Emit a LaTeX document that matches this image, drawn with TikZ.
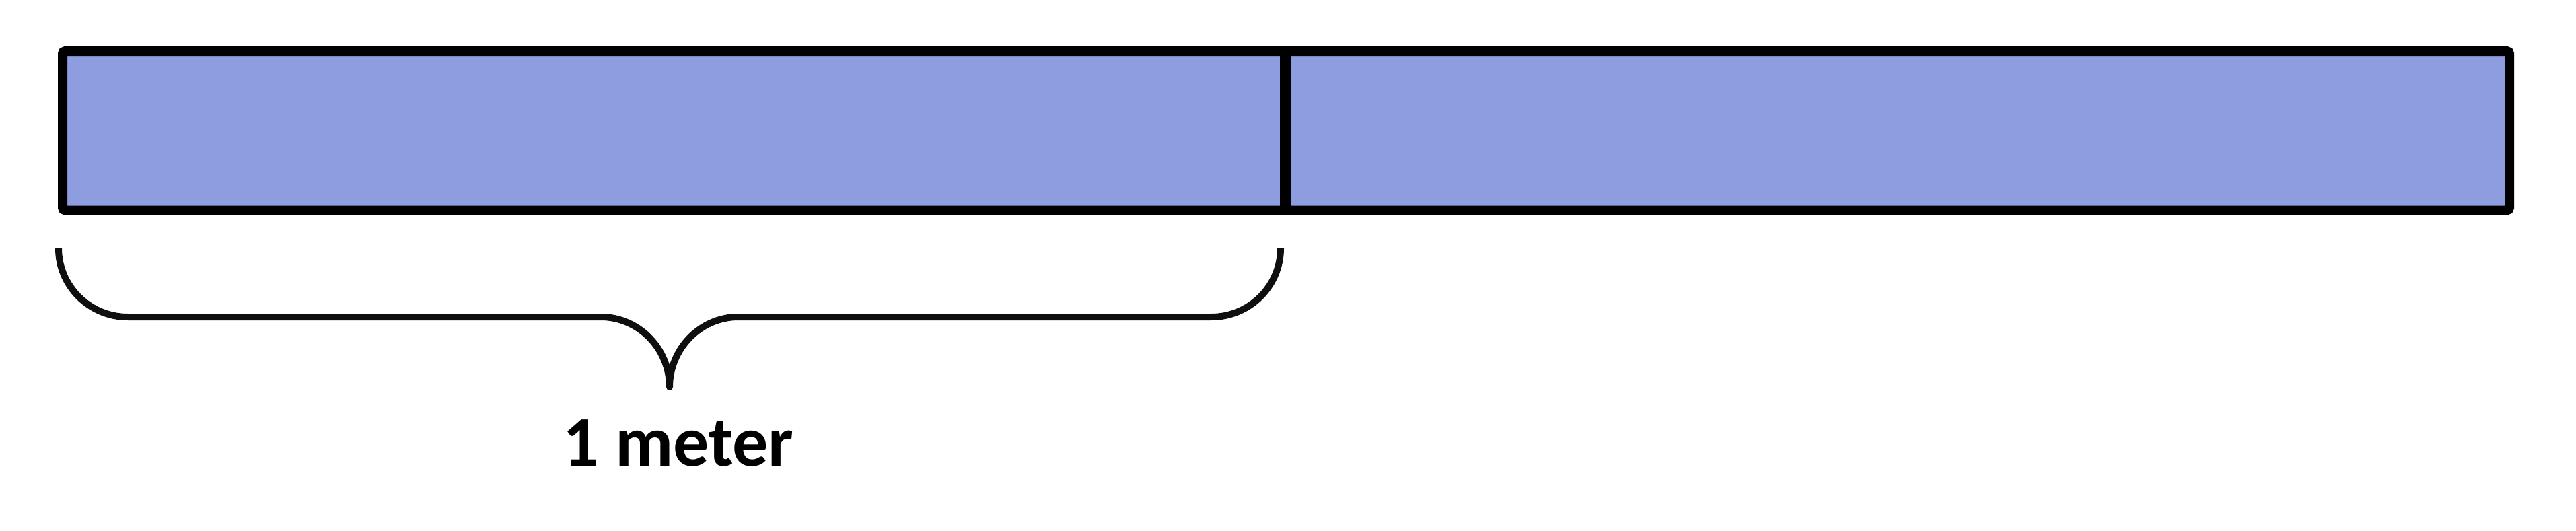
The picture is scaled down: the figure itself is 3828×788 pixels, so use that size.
\documentclass[tikz,border=0pt]{standalone}
\usepackage{fontspec}
\setmainfont{Carlito}
\definecolor{barfill}{RGB}{142,156,224}
\definecolor{bracecol}{RGB}{15,15,15}
\begin{document}
\begin{tikzpicture}[x=1pt,y=-1pt,
  bar/.style={draw=black,fill=barfill,line width=14pt,rounded corners=4pt},
  divider/.style={draw=black,line width=16pt},
  bracestyle/.style={draw=bracecol,line width=10pt,line join=round},
  label/.style={font=\fontsize{106}{120}\selectfont\bfseries,inner sep=0pt,anchor=base}]
\useasboundingbox (0,0) rectangle (3828,788);
\draw[bar] (93,76) rectangle (3729,312.5);
\coordinate (dtop) at (1910,83);
\coordinate (dbot) at (1910,306);
\draw[divider] (dtop) -- (dbot);
\coordinate (bl) at (87,369);
\coordinate (br) at (1903,369);
\coordinate (tip) at (995,575);
\draw[bracestyle] (bl) .. controls (87,425) and (133,471) .. (190,471)
  -- (893,471) .. controls (949,471) and (995,518) .. (tip)
  .. controls (995,518) and (1041,471) .. (1097,471)
  -- (1800,471) .. controls (1857,471) and (1903,425) .. (br);
\node[label] (lbl) at (1008,692) {1 meter};
\end{tikzpicture}
\end{document}
